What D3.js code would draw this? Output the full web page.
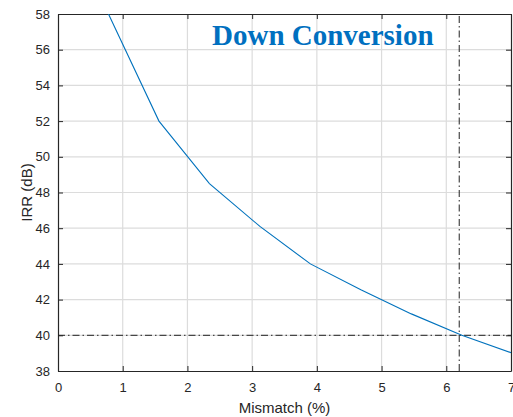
<!DOCTYPE html>
<html>
<head>
<meta charset="utf-8">
<script src="https://cdn.jsdelivr.net/npm/d3@7"></script>
<style>
body { margin: 0; background: #fff; }
svg { font-family: "Liberation Sans", Arial, sans-serif; }
</style>
</head>
<body>
<div id="chart"></div>
<script>
var mismatch = [0.78, 1.56, 2.34, 3.12, 3.90, 4.68, 5.46, 6.24, 7.02];
var irr = [58.0, 52.0, 48.5, 46.1, 44.0, 42.55, 41.2, 40.0, 39.0];
var xTicks = [0, 1, 2, 3, 4, 5, 6, 7];
var yTicks = [38, 40, 42, 44, 46, 48, 50, 52, 54, 56, 58];
var markX = 6.2;
var markY = 40;

var W = 513, H = 417;
var m = {left: 58, right: 2, top: 14, bottom: 46};

var svg = d3.select("#chart")
    .append("svg")
    .attr("width", W)
    .attr("height", H);

var x = d3.scaleLinear().domain([0, 7]).range([m.left, W - m.right]);
var y = d3.scaleLinear().domain([38, 58]).range([H - m.bottom, m.top]);

svg.append("defs").append("clipPath").attr("id", "clip")
    .append("rect")
    .attr("x", x(0)).attr("y", y(58))
    .attr("width", x(7) - x(0)).attr("height", y(38) - y(58));

// grid
svg.selectAll("line.gx")
    .data(xTicks.slice(1, -1))
    .enter().append("line")
    .attr("x1", function(d){return x(d)}).attr("x2", function(d){return x(d)})
    .attr("y1", y(38)).attr("y2", y(58))
    .attr("stroke", "#dcdcdc").attr("stroke-width", 1.2);

svg.selectAll("line.gy")
    .data(yTicks.slice(1, -1))
    .enter().append("line")
    .attr("y1", function(d){return y(d)}).attr("y2", function(d){return y(d)})
    .attr("x1", x(0)).attr("x2", x(7))
    .attr("stroke", "#dcdcdc").attr("stroke-width", 1.2);

// axes
var fmt = d3.format("d");
svg.append("g")
    .attr("transform", "translate(0," + y(38) + ")")
    .call(d3.axisBottom(x).tickValues(xTicks).tickFormat(fmt).tickSizeInner(-5).tickSizeOuter(0).tickPadding(12));
svg.append("g")
    .attr("transform", "translate(0," + y(58) + ")")
    .call(d3.axisTop(x).tickValues(xTicks).tickSizeInner(-5).tickSizeOuter(0).tickFormat(""));
svg.append("g")
    .attr("transform", "translate(" + x(0) + ",0)")
    .call(d3.axisLeft(y).tickValues(yTicks).tickFormat(fmt).tickSizeInner(-5).tickSizeOuter(0).tickPadding(8));
svg.append("g")
    .attr("transform", "translate(" + x(7) + ",0)")
    .call(d3.axisRight(y).tickValues(yTicks).tickSizeInner(-5).tickSizeOuter(0).tickFormat(""));

svg.selectAll(".domain").attr("stroke", "#262626").attr("stroke-width", 1.2);
svg.selectAll(".tick line").attr("stroke", "#262626");
svg.selectAll(".tick text")
    .attr("fill", "#262626")
    .style("font-size", "13px")
    .style("font-family", "Liberation Sans, Arial, sans-serif");

// reference lines
svg.append("line")
    .attr("x1", x(0)).attr("x2", x(7))
    .attr("y1", y(markY)).attr("y2", y(markY))
    .attr("stroke", "#222").attr("stroke-width", 1)
    .attr("stroke-dasharray", "7,3,1.5,3");
svg.append("line")
    .attr("x1", x(markX)).attr("x2", x(markX))
    .attr("y1", y(38)).attr("y2", y(58))
    .attr("stroke", "#222").attr("stroke-width", 1)
    .attr("stroke-dasharray", "7,3,1.5,3");

// data line
var line = d3.line()
    .x(function(d, i){return x(mismatch[i])})
    .y(function(d){return y(d)});

svg.append("path")
    .datum(irr)
    .attr("clip-path", "url(#clip)")
    .attr("fill", "none")
    .attr("stroke", "#0072BD")
    .attr("stroke-width", 1.1)
    .attr("d", line);

// labels
svg.append("text")
    .attr("x", (x(0) + x(7)) / 2)
    .attr("y", 413)
    .attr("text-anchor", "middle")
    .attr("fill", "#262626")
    .style("font-size", "15px")
    .text("Mismatch (%)");

svg.append("text")
    .attr("transform", "translate(32," + ((y(38) + y(58)) / 2) + ") rotate(-90)")
    .attr("text-anchor", "middle")
    .attr("fill", "#262626")
    .style("font-size", "15px")
    .text("IRR (dB)");

svg.append("text")
    .attr("x", 212)
    .attr("y", 45)
    .attr("fill", "#0070C0")
    .style("font-family", "Liberation Serif, Times New Roman, serif")
    .style("font-weight", "bold")
    .style("font-size", "29px")
    .text("Down Conversion");
</script>
</body>
</html>
